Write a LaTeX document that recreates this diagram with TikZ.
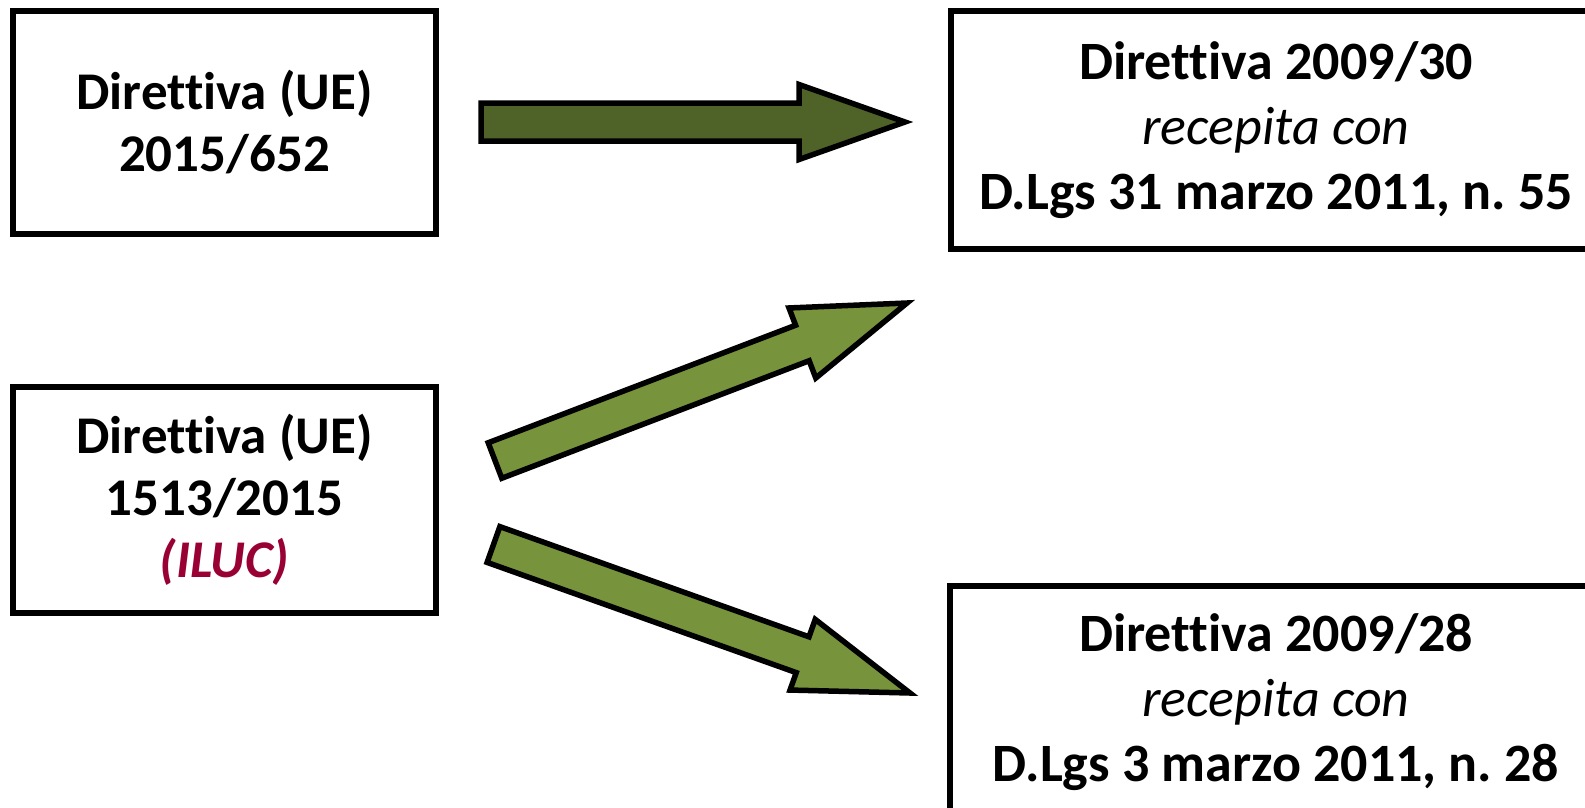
\documentclass[tikz,border=0pt]{standalone}
\usepackage{fontspec}
\setmainfont{Carlito}[Ligatures=NoCommon]
\usetikzlibrary{calc}
\frenchspacing

\definecolor{oliveDark}{HTML}{4F6228}
\definecolor{oliveLight}{HTML}{77933C}
\definecolor{iluc}{HTML}{990033}

\tikzset{
  lawbox/.style={draw=black, line width=6.5pt, fill=white, align=center,
    inner sep=0pt, font=\fontsize{53}{62}\selectfont\bfseries},
  rightbox/.style={lawbox, font=\fontsize{54}{65}\selectfont\bfseries},
  fatarrow/.style={draw=black, line width=5.5pt, line join=miter},
}

% Block arrow from #1 to #2, head length #3, extra style #4
\newcommand\fatarrowdraw[4]{%
  \coordinate (hb) at ($(#2)!#3!(#1)$);
  \draw[fatarrow,#4]
    ($(#1)!19pt!90:(#2)$) -- ($(hb)!19pt!90:(#2)$) -- ($(hb)!37.5pt!90:(#2)$)
    -- (#2) -- ($(hb)!37.5pt!-90:(#2)$) -- ($(hb)!19pt!-90:(#2)$)
    -- ($(#1)!19pt!-90:(#2)$) -- cycle;
}

\begin{document}
\begin{tikzpicture}[x=1pt,y=-1pt]
\useasboundingbox (0,0) rectangle (1585,807);
\clip (0,0) rectangle (1585,807);

% source directives
\node[lawbox, minimum width=423pt, minimum height=223pt] (d652) at (224.5,122.5)
  {Direttiva (UE)\\2015/652};
\node[lawbox, minimum width=423pt, minimum height=226pt] (d1513) at (224.5,500)
  {Direttiva (UE)\\1513/2015\\{\color{iluc}\itshape (ILUC)}};

% amended directives
\node[rightbox, minimum width=650pt, minimum height=238pt] (d30) at (1276,130)
  {Direttiva 2009/30\\{\mdseries\itshape recepita con}\\D.Lgs 31 marzo 2011, n. 55};
\node[rightbox, minimum width=652pt, minimum height=232pt] (d28) at (1276,702)
  {Direttiva 2009/28\\{\mdseries\itshape recepita con}\\D.Lgs 3 marzo 2011, n. 28};

% arrow anchors
\coordinate (a1s) at (481,122);
\coordinate (a1e) at (905,122);
\coordinate (a2s) at (495,460.5);
\coordinate (a2e) at (907,303);
\coordinate (a3s) at (493.5,544.5);
\coordinate (a3e) at (910,693);

\fatarrowdraw{a1s}{a1e}{106pt}{fill=oliveDark}
\fatarrowdraw{a2s}{a2e}{112pt}{fill=oliveLight}
\fatarrowdraw{a3s}{a3e}{114pt}{fill=oliveLight}
\end{tikzpicture}
\end{document}
